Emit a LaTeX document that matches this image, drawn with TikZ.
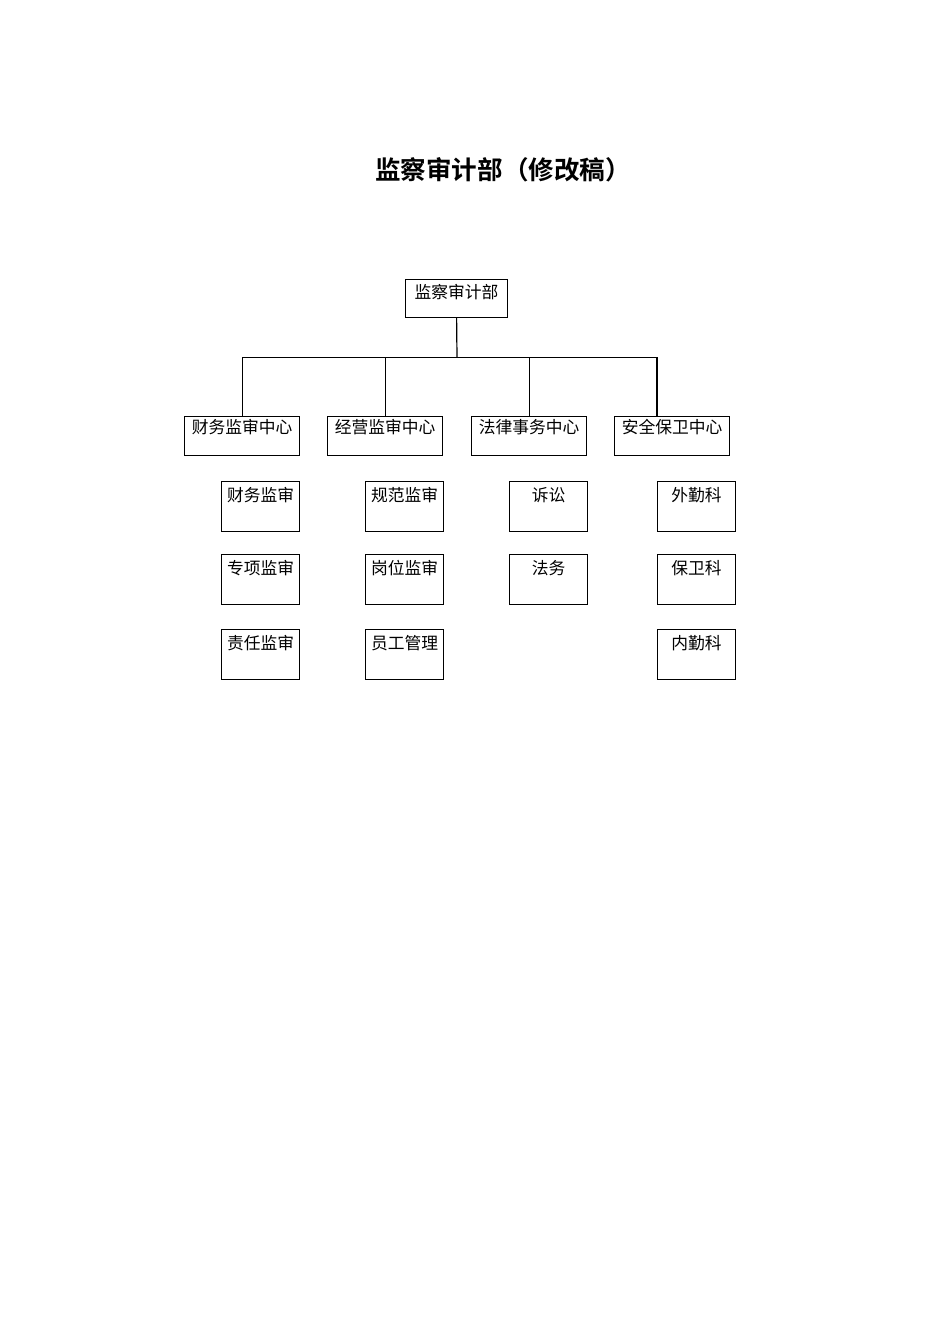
\documentclass[tikz,border=0pt]{standalone}
\usepackage{fontspec}
\setmainfont{Noto Sans CJK SC}
\newfontfamily\cjk{Noto Sans CJK SC}
\newfontfamily\cjkbold{Noto Sans CJK SC Bold}
\begin{document}
\begin{tikzpicture}[x=0.6266pt,y=-0.6266pt,
  topbox/.style={draw, line width=0.75pt, anchor=north west, inner xsep=0pt, inner ysep=0pt,
    minimum width=102*0.6266pt, text height=11.6pt, text depth=12.2pt, font=\cjk\fontsize{10.5pt}{12pt}\selectfont},
  midbox/.style={draw, line width=0.75pt, anchor=north west, inner xsep=0pt, inner ysep=0pt,
    minimum width=115*0.6266pt, text height=10.7pt, text depth=13.7pt, font=\cjk\fontsize{10.5pt}{12pt}\selectfont},
  subbox/.style={draw, line width=0.75pt, anchor=north west, inner xsep=0pt, inner ysep=0pt,
    minimum width=78*0.6266pt, text height=12.6pt, text depth=18.7pt, font=\cjk\fontsize{10.5pt}{12pt}\selectfont},
  link/.style={line width=0.75pt}]
\useasboundingbox (0,0) rectangle (950,1344);
\fill[white] (0,0) rectangle (950,1344);

\node[font=\cjkbold\fontsize{16pt}{19pt}\selectfont] (title) at (503,170) {监察审计部（修改稿）};

\node[topbox] (top) at (405,279) {监察审计部};

\node[midbox] (m1) at (184,416) {财务监审中心};
\node[midbox] (m2) at (327,416) {经营监审中心};
\node[midbox] (m3) at (471,416) {法律事务中心};
\node[midbox] (m4) at (614,416) {安全保卫中心};

\node[subbox] (a1) at (221,481) {财务监审};
\node[subbox] (a2) at (221,554) {专项监审};
\node[subbox] (a3) at (221,629) {责任监审};
\node[subbox] (b1) at (365,481) {规范监审};
\node[subbox] (b2) at (365,554) {岗位监审};
\node[subbox] (b3) at (365,629) {员工管理};
\node[subbox] (c1) at (509,481) {诉讼};
\node[subbox] (c2) at (509,554) {法务};
\node[subbox] (d1) at (657,481) {外勤科};
\node[subbox] (d2) at (657,554) {保卫科};
\node[subbox] (d3) at (657,629) {内勤科};

\coordinate (bus) at (457,357.5);
\coordinate (m4in) at (657,416);
\draw[link] (top.south) -- (bus);
\draw[link] (m1.north) |- (bus) -| (m4in);
\draw[link] (m2.north) -- (m2.north |- bus);
\draw[link] (m3.north) -- (m3.north |- bus);
\end{tikzpicture}
\end{document}
